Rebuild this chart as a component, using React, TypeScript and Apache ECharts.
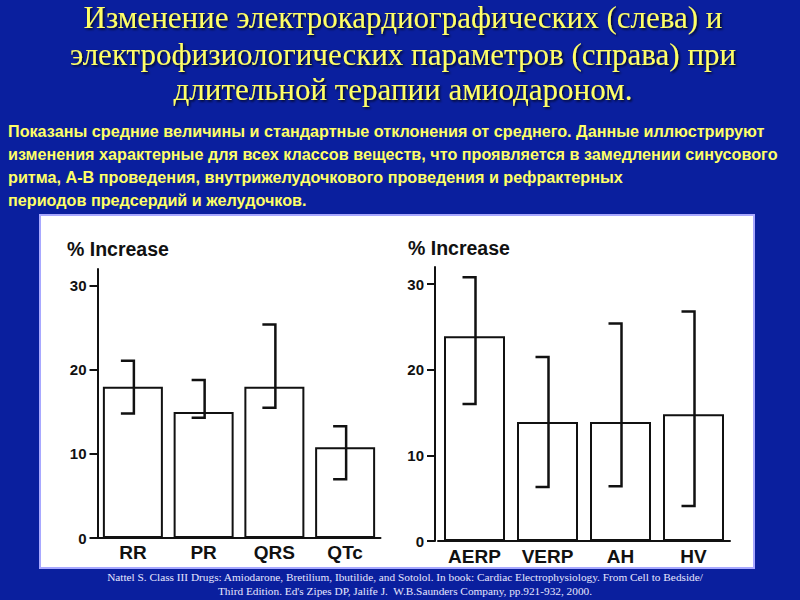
import React, { useEffect, useRef } from "react";
import * as echarts from "echarts";

const titleLines = [
  "Изменение электрокардиографических (слева) и",
  "электрофизиологических параметров (справа) при",
  "длительной терапии амиодароном.",
];
const noteLines = [
  "Показаны средние величины и стандартные отклонения от среднего. Данные иллюстрируют",
  "изменения характерные для всех классов веществ, что проявляется в замедлении синусового",
  "ритма, А-В проведения, внутрижелудочкового проведения и рефрактерных",
  "периодов предсердий и желудочков.",
];
const sourceLines = [
  "Nattel S. Class III Drugs: Amiodarone, Bretilium, Ibutilide, and Sotolol. In book: Cardiac Electrophysiology. From Cell to Bedside/",
  "Third Edition. Ed's Zipes DP, Jalife J.  W.B.Saunders Company, pp.921-932, 2000.",
];
const axisName = "% Increase";
const yTicks = [0, 10, 20, 30];

const ecgCategories = ["RR", "PR", "QRS", "QTc"];
const ecgMean = [18.0, 15.0, 18.0, 10.8];
const ecgLower = [14.8, 14.3, 15.5, 7.0];
const ecgUpper = [21.1, 18.8, 25.4, 13.3];

const epCategories = ["AERP", "VERP", "AH", "HV"];
const epMean = [23.9, 13.9, 13.9, 14.8];
const epLower = [16.0, 6.3, 6.4, 4.1];
const epUpper = [30.8, 21.5, 25.4, 26.8];

const SANS = '"Liberation Sans", Arial, sans-serif';
const SERIF = '"Liberation Serif", "Times New Roman", serif';

function errorRender(params: any, api: any) {
  const x = api.value(0);
  const lo = api.value(1);
  const hi = api.value(2);
  const pHi = api.coord([x, hi]);
  const pLo = api.coord([x, lo]);
  const cx = pHi[0] + 1;
  const cap = 13;
  return {
    type: "polyline",
    shape: {
      points: [
        [cx - cap, pHi[1]],
        [cx, pHi[1]],
        [cx, pLo[1]],
        [cx - cap, pLo[1]],
      ],
    },
    style: { stroke: "#111", lineWidth: 2.5, fill: "none" },
  };
}

function yAxis(gridIndex: number, offset: number) {
  return {
    type: "value",
    gridIndex,
    min: 0,
    max: 32,
    interval: 10,
    offset,
    axisLine: { show: true, lineStyle: { color: "#111", width: 2 } },
    axisTick: {
      show: true,
      length: 8,
      inside: false,
      customValues: yTicks,
      lineStyle: { color: "#111", width: 2 },
    },
    axisLabel: {
      customValues: yTicks,
      color: "#111",
      fontFamily: SANS,
      fontWeight: "bold",
      fontSize: 15,
      margin: 11,
    },
    splitLine: { show: false },
  };
}

function xAxis(gridIndex: number, data: string[], margin: number) {
  return {
    type: "category",
    gridIndex,
    data,
    axisLine: { show: true, lineStyle: { color: "#111", width: 2 } },
    axisTick: { show: false },
    axisLabel: {
      color: "#111",
      fontFamily: SANS,
      fontWeight: "bold",
      fontSize: 19,
      margin,
      interval: 0,
    },
  };
}

export default function App() {
  const ref = useRef<HTMLDivElement>(null);
  useEffect(() => {
    if (!ref.current) return;
    const chart = echarts.init(ref.current, undefined, { renderer: "svg" });
    const graphics: any[] = [
      {
        type: "rect",
        z: 0,
        shape: { x: 40, y: 215, width: 714, height: 353 },
        style: { fill: "#ffffff", stroke: "#a8a8ff", lineWidth: 2 },
      },
    ];
    const titleY = [17, 54, 89];
    titleLines.forEach((t, i) => {
      graphics.push({
        type: "text",
        z: 5,
        x: 403,
        y: titleY[i],
        style: {
          text: t,
          font: `31px ${SERIF}`,
          fill: "#ffff66",
          textAlign: "center",
          textVerticalAlign: "middle",
          align: "center",
          verticalAlign: "middle",
          textShadowColor: "rgba(0,0,0,0.8)",
          textShadowBlur: 2,
          textShadowOffsetX: 1.5,
          textShadowOffsetY: 1.5,
        },
      });
    });
    const noteY = [131, 154, 177, 200];
    noteLines.forEach((t, i) => {
      graphics.push({
        type: "text",
        z: 5,
        x: 8,
        y: noteY[i],
        style: {
          text: t,
          font: `bold 16.2px ${SANS}`,
          fill: "#ffff66",
          textAlign: "left",
          textVerticalAlign: "middle",
          align: "left",
          verticalAlign: "middle",
        },
      });
    });
    const srcY = [577, 591];
    sourceLines.forEach((t, i) => {
      graphics.push({
        type: "text",
        z: 5,
        x: 405,
        y: srcY[i],
        style: {
          text: t,
          font: `11.3px ${SERIF}`,
          fill: "#e6e6ff",
          textAlign: "center",
          textVerticalAlign: "middle",
          align: "center",
          verticalAlign: "middle",
        },
      });
    });
    [
      [67, 249],
      [408, 248],
    ].forEach(([x, y]) => {
      graphics.push({
        type: "text",
        z: 5,
        x,
        y,
        style: {
          text: axisName,
          font: `bold 19.5px ${SANS}`,
          fill: "#111",
          textAlign: "left",
          textVerticalAlign: "middle",
          align: "left",
          verticalAlign: "middle",
        },
      });
    });

    chart.setOption({
      animation: false,
      backgroundColor: "#0a1f9e",
      graphic: { elements: graphics },
      grid: [
        { left: 97.5, top: 269, width: 283, height: 269 },
        { left: 438, top: 267, width: 292, height: 274 },
      ],
      xAxis: [xAxis(0, ecgCategories, 5), xAxis(1, epCategories, 6)],
      yAxis: [yAxis(0, 0), yAxis(1, 3)],
      series: [
        {
          type: "bar",
          xAxisIndex: 0,
          yAxisIndex: 0,
          data: ecgMean,
          barWidth: 60,
          z: 3,
          itemStyle: { color: "#ffffff", borderColor: "#111", borderWidth: 2 },
        },
        {
          type: "custom",
          xAxisIndex: 0,
          yAxisIndex: 0,
          z: 4,
          renderItem: errorRender,
          encode: { x: 0, y: [1, 2] },
          data: ecgCategories.map((_, i) => [i, ecgLower[i], ecgUpper[i]]),
        },
        {
          type: "bar",
          xAxisIndex: 1,
          yAxisIndex: 1,
          data: epMean,
          barWidth: 61,
          z: 3,
          itemStyle: { color: "#ffffff", borderColor: "#111", borderWidth: 2 },
        },
        {
          type: "custom",
          xAxisIndex: 1,
          yAxisIndex: 1,
          z: 4,
          renderItem: errorRender,
          encode: { x: 0, y: [1, 2] },
          data: epCategories.map((_, i) => [i, epLower[i], epUpper[i]]),
        },
      ],
    });
    return () => chart.dispose();
  }, []);
  return (
    <div
      ref={ref}
      style={{ position: "fixed", left: 0, top: 0, width: 800, height: 600 }}
    />
  );
}
